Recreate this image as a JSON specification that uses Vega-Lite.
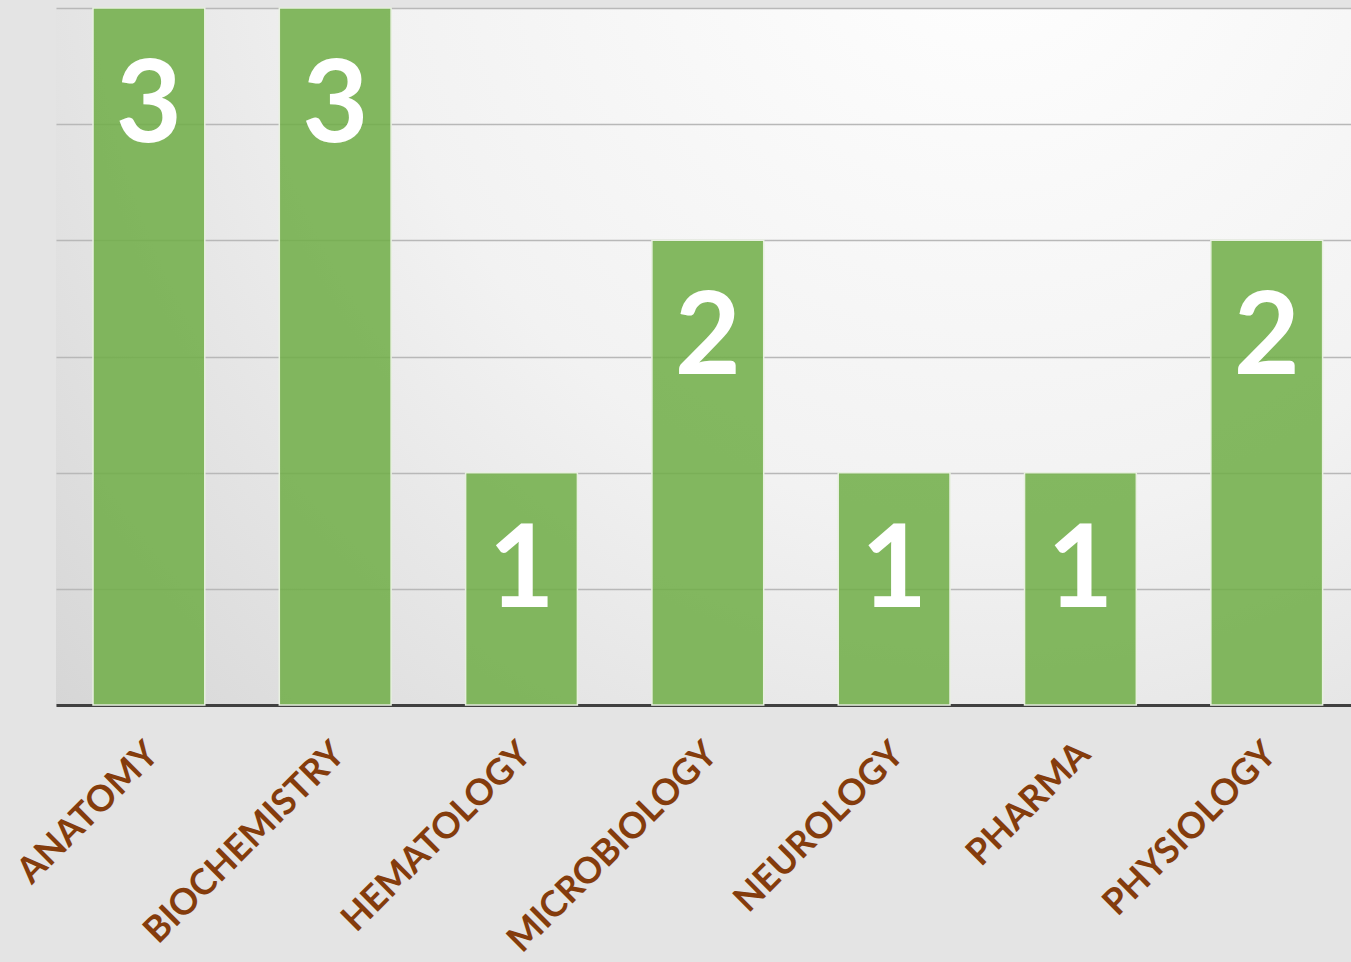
{
  "$schema": "https://vega.github.io/schema/vega-lite/v6.json",
  "autosize": {"type": "none"},
  "width": 1295,
  "height": 697,
  "padding": {"left": 56, "top": 8, "right": 0, "bottom": 257},
  "background": "#e4e4e4",
  "config": {
    "view": {
      "stroke": null,
      "fill": {
        "gradient": "radial",
        "x1": 0.72, "y1": 0.15, "r1": 0,
        "x2": 0.72, "y2": 0.15, "r2": 0.95,
        "stops": [
          {"offset": 0, "color": "#ffffff"},
          {"offset": 0.5, "color": "#f2f2f2"},
          {"offset": 1, "color": "#d6d6d6"}
        ]
      }
    }
  },
  "data": {
    "values": [
      {"subject": "ANATOMY", "count": 3},
      {"subject": "BIOCHEMISTRY", "count": 3},
      {"subject": "HEMATOLOGY", "count": 1},
      {"subject": "MICROBIOLOGY", "count": 2},
      {"subject": "NEUROLOGY", "count": 1},
      {"subject": "PHARMA", "count": 1},
      {"subject": "PHYSIOLOGY", "count": 2}
    ]
  },
  "encoding": {
    "x": {
      "field": "subject",
      "type": "nominal",
      "sort": null,
      "title": null,
      "scale": {"paddingInner": 0.4, "paddingOuter": 0.1755, "align": 0.566},
      "axis": {
        "labelAngle": -45,
        "labelAlign": "right",
        "labelBaseline": "top",
        "labelFont": "Lato",
        "labelFontWeight": "bold",
        "labelFontSize": 36,
        "labelColor": "#843c0c",
        "labelPadding": 31,
        "labelOffset": -8,
        "labelLimit": 0,
        "labelOverlap": false,
        "ticks": false,
        "domainColor": "#404040",
        "domainWidth": 3,
        "grid": false
      }
    },
    "y": {
      "field": "count",
      "type": "quantitative",
      "title": null,
      "scale": {"domain": [0, 3], "nice": false},
      "axis": {
        "values": [0, 0.5, 1, 1.5, 2, 2.5, 3],
        "labels": false,
        "ticks": false,
        "domain": false,
        "grid": true,
        "gridColor": "#b8b8b8",
        "gridWidth": 1.5
      }
    }
  },
  "layer": [
    {
      "mark": {
        "type": "bar",
        "color": "#70ad47",
        "fillOpacity": 0.86,
        "stroke": "#e8f0e0",
        "strokeWidth": 1.5
      }
    },
    {
      "mark": {
        "type": "text",
        "font": "Lato",
        "fontWeight": "bold",
        "fontSize": 114,
        "color": "#ffffff",
        "baseline": "alphabetic",
        "dy": 134
      },
      "encoding": {"text": {"field": "count", "type": "quantitative"}}
    }
  ]
}
